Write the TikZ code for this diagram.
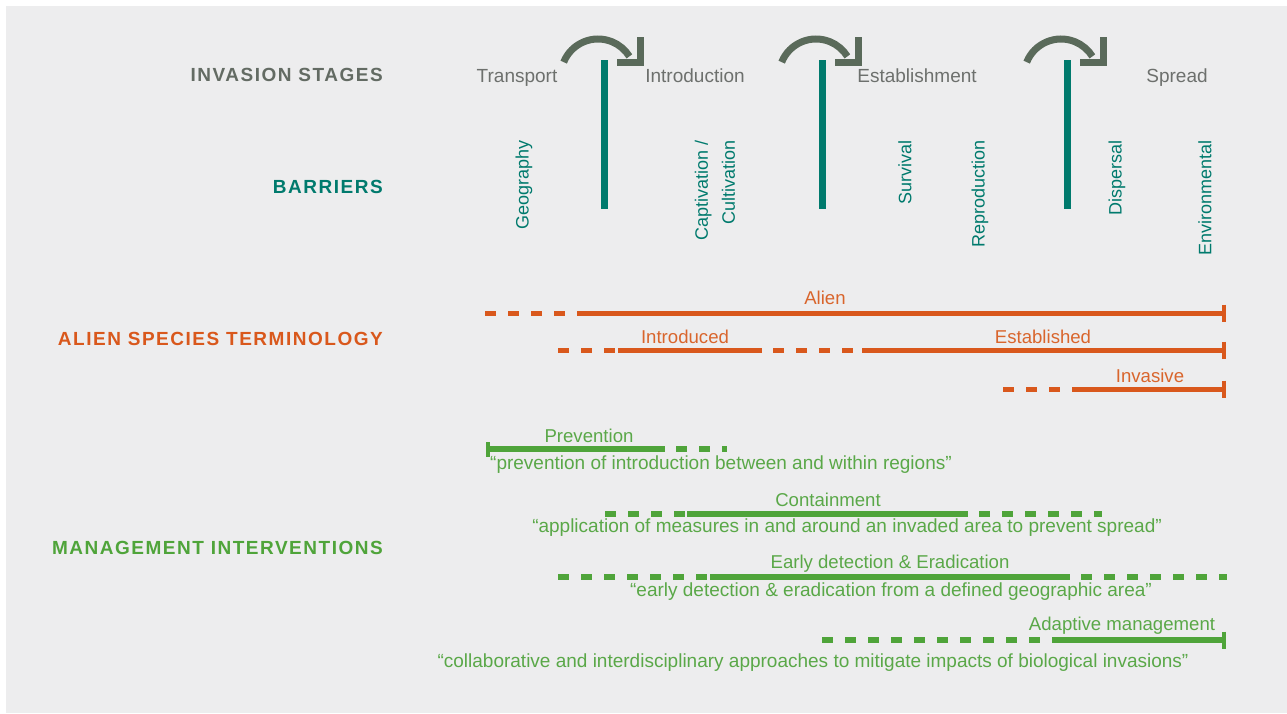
\documentclass[tikz,border=0pt]{standalone}
\usepackage{fontspec}
\setmainfont{Liberation Sans}
\usetikzlibrary{arrows.meta}

\definecolor{bggray}{HTML}{EDEDEE}
\definecolor{stagegray}{HTML}{6D706D}
\definecolor{headgray}{HTML}{636B63}
\definecolor{arrowgray}{HTML}{5A6A5A}
\definecolor{barteal}{HTML}{007A6D}
\definecolor{termorange}{HTML}{D9581C}
\definecolor{termtext}{HTML}{D9652C}
\definecolor{mgmtgreen}{HTML}{4FA43A}
\definecolor{mgmttext}{HTML}{5AA848}

\tikzset{
  header/.style={anchor=east, inner sep=0pt, font=\fontsize{19}{20}\selectfont\bfseries\addfontfeature{LetterSpace=8}},
  stage/.style={anchor=base, inner sep=0pt, text=stagegray, font=\fontsize{19}{22}\selectfont},
  barrier/.style={rotate=90, anchor=east, inner sep=0pt, text=barteal, font=\fontsize{18}{27}\selectfont},
  barline/.style={barteal, line width=7pt},
  stagearrow/.style={arrowgray, line width=7pt, miter limit=10},
  term/.style={termorange, line width=5pt},
  termdash/.style={term, dash pattern=on 11pt off 12pt},
  termlabel/.style={inner sep=0pt, text=termtext, font=\fontsize{18.6}{20}\selectfont},
  mgmt/.style={mgmtgreen, line width=5.5pt},
  mgmtdash/.style={mgmt, dash pattern=on 11pt off 12pt},
  mgmtlabel/.style={inner sep=0pt, text=mgmttext, font=\fontsize{18.6}{20}\selectfont},
  quote/.style={mgmtlabel, font=\fontsize{19}{20}\selectfont},
  after/.style={dash phase=12pt},
  endbar/.style={-{Bar[width=17pt,line width=4pt]}}
}

\begin{document}
\begin{tikzpicture}[x=1pt,y=1pt]
  % background
  \fill[white] (0,0) rectangle (1287,-713);
  \fill[bggray] (6,-6) rectangle (1287,-713);
  \useasboundingbox (0,0) rectangle (1287,-713);

  % row headers
  \node[header, text=headgray] (hstages) at (383,-75) {INVASION STAGES};
  \node[header, text=barteal] (hbarriers) at (383,-187) {BARRIERS};
  \node[header, text=termorange] (hterms) at (383,-339) {ALIEN SPECIES TERMINOLOGY};
  \node[header, text=mgmtgreen] (hmgmt) at (383,-548) {MANAGEMENT INTERVENTIONS};

  % invasion stages
  \node[stage] (transport) at (517,-82) {Transport};
  \node[stage] (introduction) at (695,-82) {Introduction};
  \node[stage] (establishment) at (917,-82) {Establishment};
  \node[stage] (spread) at (1177,-82) {Spread};

  % barriers between the stages
  \foreach \bx in {604,822,1067} {
    \draw[barline] (\bx,-60) -- (\bx,-209);
    \draw[stagearrow] (\bx-6,-76) ++(158:37) arc[start angle=158, end angle=32, radius=37];
    \draw[stagearrow] (\bx+13,-62) -- (\bx+36,-62) -- (\bx+36,-37);
  }

  \node[barrier] (geography) at (524,-140) {Geography};
  \node[barrier, align=right] (captivation) at (715,-140) {Captivation /\\Cultivation};
  \node[barrier] (survival) at (905,-140) {Survival};
  \node[barrier] (reproduction) at (980,-140) {Reproduction};
  \node[barrier] (dispersal) at (1117,-140) {Dispersal};
  \node[barrier] (environmental) at (1205,-140) {Environmental};

  % terminology
  \draw[termdash] (485,-313) -- (577,-313);
  \draw[term, endbar] (577,-313) -- (1226,-313);
  \node[termlabel] (alien) at (825,-298) {Alien};

  \draw[termdash] (558,-350) -- (618,-350);
  \draw[term] (618,-350) -- (762,-350);
  \draw[termdash, after] (762,-350) -- (862,-350);
  \draw[term, endbar] (862,-350) -- (1226,-350);
  \node[termlabel] (introduced) at (685,-337) {Introduced};
  \node[termlabel] (established) at (1043,-337) {Established};

  \draw[termdash] (1003,-389) -- (1077,-389);
  \draw[term, endbar] (1077,-389) -- (1226,-389);
  \node[termlabel] (invasive) at (1150,-376) {Invasive};

  % management
  \draw[mgmt, {Bar[width=15pt,line width=4pt]}-] (486,-449) -- (665,-449);
  \draw[mgmtdash, after] (665,-449) -- (727,-449);
  \node[mgmtlabel] (prevention) at (589,-436) {Prevention};
  \node[quote, anchor=west] (qprevention) at (490,-465) {“prevention of introduction between and within regions”};

  \draw[mgmtdash] (605,-514) -- (687,-514);
  \draw[mgmt] (687,-514) -- (968,-514);
  \draw[mgmtdash, after] (968,-514) -- (1102,-514);
  \node[mgmtlabel] (containment) at (828,-500) {Containment};
  \node[quote] (qcontainment) at (847,-528) {“application of measures in and around an invaded area to prevent spread”};

  \draw[mgmtdash] (558,-577) -- (710,-577);
  \draw[mgmt] (710,-577) -- (1070,-577);
  \draw[mgmtdash, after] (1070,-577) -- (1227,-577);
  \node[mgmtlabel] (eradication) at (890,-564) {Early detection \& Eradication};
  \node[quote] (qeradication) at (891,-592) {“early detection \& eradication from a defined geographic area”};

  \draw[mgmtdash] (822,-640) -- (1060,-640);
  \draw[mgmt, endbar] (1060,-640) -- (1226,-640);
  \node[mgmtlabel] (adaptive) at (1122,-626) {Adaptive management};
  \node[quote] (qadaptive) at (813,-663) {“collaborative and interdisciplinary approaches to mitigate impacts of biological invasions”};
\end{tikzpicture}
\end{document}
